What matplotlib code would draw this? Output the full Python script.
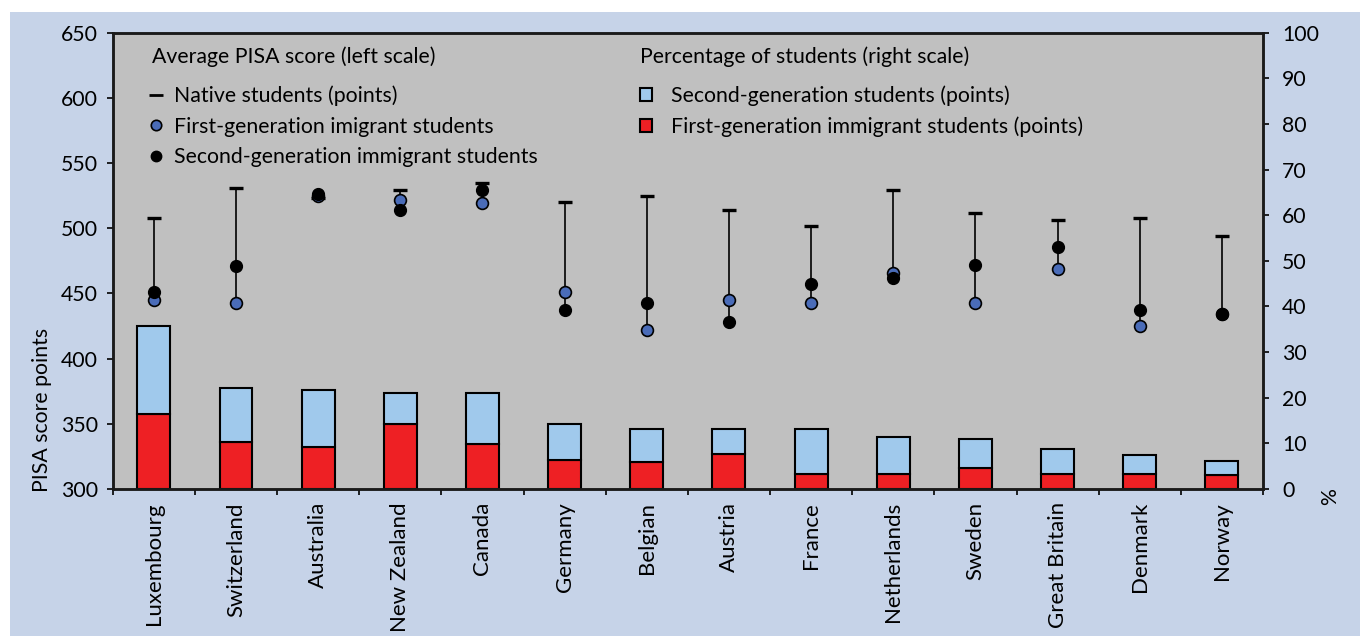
import matplotlib.pyplot as plt
from matplotlib.lines import Line2D
from matplotlib.patches import Patch, Rectangle
import numpy as np

countries = ["Luxembourg", "Switzerland", "Australia", "New Zealand", "Canada",
             "Germany", "Belgian", "Austria", "France", "Netherlands",
             "Sweden", "Great Britain", "Denmark", "Norway"]

# average PISA scores (left scale)
native = [508, 531, 523, 529, 535, 520, 525, 514, 502, 529, 512, 506, 508, 494]
first_gen = [445, 443, 525, 522, 519, 451, 422, 445, 443, 466, 443, 469, 425, 434]
second_gen = [451, 471, 526, 514, 529, 437, 443, 428, 457, 462, 472, 486, 437, 434]

# share of students in % (right scale)
pct_first = [16.5, 10.4, 9.1, 14.3, 9.9, 6.4, 6.0, 7.7, 3.3, 3.3, 4.6, 3.3, 3.3, 3.0]
pct_total = [35.8, 22.2, 21.8, 21.0, 21.0, 14.3, 13.1, 13.1, 13.1, 11.3, 10.9, 8.7, 7.4, 6.1]
pct_second = [t - f for t, f in zip(pct_total, pct_first)]

plt.rcParams["font.family"] = ["Lato", "DejaVu Sans"]
plt.rcParams["font.size"] = 15.3

BG = "#c6d3e8"
PLOT_BG = "#c0c0c0"
RED = "#ee2024"
LIGHT = "#a0c9ec"
BLUE = "#4a6cb8"

fig = plt.figure(figsize=(13.6, 6.36), dpi=100, facecolor="white")
fig.patches.append(Rectangle((10 / 1360, 0), 1, 1 - 12 / 636, transform=fig.transFigure,
                             facecolor=BG, edgecolor="none", zorder=-10))

ax = fig.add_axes([112.7 / 1360, 1 - 489 / 636, (1263 - 112.7) / 1360, (489 - 32.7) / 636])
ax2 = ax.twinx()

x = np.arange(len(countries))

# bars on the percentage scale
ax2.bar(x, pct_first, width=0.4, color=RED, edgecolor="black", linewidth=1.5, zorder=2)
ax2.bar(x, pct_second, width=0.4, bottom=pct_first, color=LIGHT, edgecolor="black",
        linewidth=1.5, zorder=2)
ax2.set_ylim(0, 100)
ax2.set_yticks(range(0, 101, 10))

# scores drawn on top of bars
ax.set_zorder(ax2.get_zorder() + 1)
ax.patch.set_visible(False)
ax2.patch.set_visible(True)
ax2.patch.set_facecolor(PLOT_BG)

lows = np.minimum(np.minimum(first_gen, second_gen), native)
ax.vlines(x, lows, native, color="black", linewidth=1.2, zorder=3)
ax.plot(x, native, linestyle="none", marker="_", markersize=10, markeredgewidth=2.4,
        color="black", zorder=4)
ax.plot(x, first_gen, linestyle="none", marker="o", markersize=8.5, markerfacecolor=BLUE,
        markeredgecolor="black", markeredgewidth=1.2, zorder=5)
ax.plot(x, second_gen, linestyle="none", marker="o", markersize=8.5, markerfacecolor="black",
        markeredgecolor="black", zorder=6)

ax.set_xlim(-0.5, len(countries) - 0.5)
ax.set_ylim(300, 650)
ax.set_yticks(range(300, 651, 50))
ax.set_xticks(x)
ax.set_xticklabels(countries, rotation=90, fontsize=16)
ax.set_xticks(np.arange(-0.5, len(countries)), minor=True)
ax.tick_params(axis="x", which="major", length=0, pad=9.4)
ax.tick_params(axis="x", which="minor", length=4, width=1.2, direction="out")
ax.tick_params(axis="y", length=4.3, width=1.2, direction="out", pad=6.5)
ax2.tick_params(axis="y", length=4.3, width=1.2, direction="out", pad=9.4)
ax2.tick_params(axis="x", length=0)

for a in (ax, ax2):
    for s in a.spines.values():
        s.set_linewidth(1.8)
        s.set_color("#1a1a1a")

fig.text(42 / 1360, 1 - 410 / 636, "PISA score points", rotation=90, ha="center", va="center")
fig.text(1330 / 1360, 1 - 497 / 636, "%", rotation=90, ha="center", va="center")

# legend headings
ax.text(0.0342, 0.9467, "Average PISA score (left scale)", transform=ax.transAxes,
        ha="left", va="center")
ax.text(0.4584, 0.9467, "Percentage of students (right scale)", transform=ax.transAxes,
        ha="left", va="center")

# legends
score_handles = [
    Line2D([], [], linestyle="none", marker="_", markersize=10, markeredgewidth=2.0, color="black"),
    Line2D([], [], linestyle="none", marker="o", markersize=7.5, markerfacecolor=BLUE,
           markeredgecolor="black", markeredgewidth=1.2),
    Line2D([], [], linestyle="none", marker="o", markersize=7.5, color="black"),
]
score_labels = ["Native students (points)", "First-generation imigrant students",
                "Second-generation immigrant students"]
leg_kw = dict(loc="upper left", frameon=False, labelspacing=0.5,
              borderpad=1.0, borderaxespad=0.0)
leg1 = ax.legend(score_handles, score_labels, bbox_to_anchor=(0.0157, 0.9308),
                 handlelength=0.4, handletextpad=0.65, **leg_kw)
ax.add_artist(leg1)

pct_handles = [
    Patch(facecolor=LIGHT, edgecolor="black", linewidth=1.5),
    Patch(facecolor=RED, edgecolor="black", linewidth=1.5),
]
pct_labels = ["Second-generation students (points)", "First-generation immigrant students (points)"]
leg2 = ax.legend(pct_handles, pct_labels, bbox_to_anchor=(0.440, 0.9308),
                 handlelength=0.58, handleheight=0.58, handletextpad=0.87, **leg_kw)

fig.savefig("out.png", dpi=100, facecolor=fig.get_facecolor())
